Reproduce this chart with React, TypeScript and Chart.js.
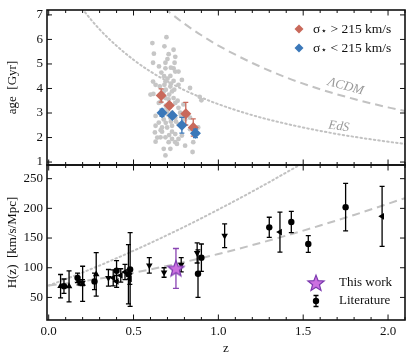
import React, { useEffect, useRef } from "react";
import { Chart, registerables } from "chart.js";

Chart.register(...registerables);

const FONT = "'Liberation Serif', 'DejaVu Serif', serif";

// ---------- Top panel: ages ----------
const galZ = [0.611,0.694,0.682,0.736,0.620,0.707,0.746,0.615,0.688,0.742,0.688,0.736,0.746,0.765,0.664,0.717,0.785,0.615,0.688,0.736,0.630,0.655,0.682,0.717,0.765,0.617,0.678,0.727,0.688,0.736,0.833,0.890,0.900,0.746,0.794,0.765,0.698,0.727,0.775,0.668,0.630,0.649,0.678,0.746,0.804,0.833,0.630,0.668,0.698,0.727,0.765,0.833,0.881,0.626,0.668,0.727,0.746,0.659,0.688,0.727,0.765,0.785,0.630,0.707,0.746,0.804,0.852,0.678,0.717,0.688,0.848,0.756,0.707,0.649,0.717,0.700,0.690,0.700,0.720,0.690,0.710,0.740,0.660,0.700,0.720,0.690,0.750,0.660,0.710,0.640,0.760,0.680,0.720,0.700,0.650,0.780,0.600];
const galAge = [5.85,6.09,5.72,5.58,5.42,5.40,5.29,5.05,5.05,5.05,4.82,4.82,4.69,4.69,4.65,4.51,4.35,4.28,4.28,4.31,4.15,4.08,4.15,4.08,4.15,3.78,3.88,3.88,3.61,3.61,4.02,3.66,3.52,3.41,3.35,3.21,3.21,3.01,3.01,3.01,2.88,2.61,2.74,2.81,2.74,2.81,2.48,2.41,2.41,2.48,2.54,2.34,2.41,2.21,2.24,2.24,2.14,2.01,2.01,1.94,1.94,2.08,1.83,1.81,1.81,1.67,1.81,1.54,1.54,1.27,1.41,1.74,3.55,3.41,2.81,2.95,3.30,4.40,4.20,3.95,3.75,3.95,3.45,3.10,2.65,2.60,2.65,2.30,2.10,2.00,3.50,4.50,4.85,5.20,4.90,2.90,3.75];

const hiZ = [0.663, 0.711, 0.808, 0.852];
const hiAge = [3.71, 3.31, 2.97, 2.41];
const hiErr = [0.27, 0.10, 0.46, 0.35];
const loZ = [0.668, 0.729, 0.785, 0.865];
const loAge = [3.01, 2.90, 2.50, 2.17];
const loErr = [0.15, 0.08, 0.32, 0.17];

const lcdmAgeZ = [0.68, 0.7, 0.8, 0.9, 1.0, 1.2, 1.4, 1.6, 1.8, 2.0, 2.1];
const lcdmAge = [7.28, 7.17, 6.64, 6.17, 5.75, 5.04, 4.45, 3.97, 3.57, 3.23, 3.08];
const edsAgeZ = [0.15, 0.2, 0.3, 0.4, 0.5, 0.6, 0.7, 0.8, 0.9, 1.0, 1.2, 1.4, 1.6, 1.8, 2.0, 2.1];
const edsAge = [7.70, 7.23, 6.41, 5.74, 5.17, 4.69, 4.29, 3.93, 3.63, 3.36, 2.91, 2.56, 2.27, 2.03, 1.83, 1.74];

// ---------- Bottom panel: H(z) ----------
const circZ = [0.09, 0.17, 0.27, 0.4, 0.47, 0.48, 0.88, 0.9, 1.3, 1.43, 1.53, 1.75];
const circH = [69, 83, 77, 95, 89, 97, 90, 117, 168, 177, 140, 202];
const circE = [12, 8, 14, 17, 50, 62, 40, 23, 17, 18, 14, 40];
const upZ = [0.07, 0.12, 0.2, 0.28];
const upH = [69, 68.6, 72.9, 88.8];
const upE = [19.6, 26.2, 29.6, 36.6];
const downZ = [0.179, 0.199, 0.352, 0.593, 0.68, 0.781, 0.875, 1.037];
const downH = [75, 75, 83, 104, 92, 105, 125, 154];
const downE = [4, 5, 14, 13, 8, 12, 17, 20];
const leftZ = [0.3802, 0.4004, 0.4247, 0.4497, 0.4783, 1.363, 1.965];
const leftH = [83, 77, 87.1, 92.8, 80.9, 160, 186.5];
const leftE = [13.5, 10.2, 11.2, 12.9, 9, 33.6, 50.4];
const thisZ = [0.75];
const thisH = [98.8];
const thisE = [33.6];

const lcdmHZ = [0, 0.2, 0.4, 0.6, 0.8, 1.0, 1.2, 1.4, 1.6, 1.8, 2.0, 2.1];
const lcdmH = [70, 77.3, 86.4, 97.2, 109.6, 123.2, 138.1, 154.1, 171.1, 188.9, 207.7, 217.3];
const edsHZ = [0, 0.2, 0.4, 0.6, 0.8, 1.0, 1.2, 1.4, 1.47];
const edsH = [70, 92.0, 116.0, 141.7, 169.0, 198.0, 228.4, 260.3, 271.7];

const xTicks = [0, 0.5, 1.0, 1.5, 2.0];
const ageTicks = [1, 2, 3, 4, 5, 6, 7];
const hTicks = [50, 100, 150, 200, 250];

const RED = "#c9695b";
const BLUE = "#3b78b9";
const GRAY_PT = "#c6c6c6";
const CURVE = "#c2c2c2";
const PURPLE = "#8a45b3";

const pts = (xs: number[], ys: number[]) => xs.map((x, i) => ({ x, y: ys[i] }));

function makeStar(): HTMLCanvasElement {
  const c = document.createElement("canvas");
  c.width = 20;
  c.height = 20;
  const ctx = c.getContext("2d")!;
  const R = 8.5, r = 3.6, cx = 10, cy = 10.6;
  ctx.beginPath();
  for (let i = 0; i < 10; i++) {
    const a = -Math.PI / 2 + (i * Math.PI) / 5;
    const rad = i % 2 === 0 ? R : r;
    ctx.lineTo(cx + rad * Math.cos(a), cy + rad * Math.sin(a));
  }
  ctx.closePath();
  ctx.fillStyle = "#cc70e0";
  ctx.fill();
  ctx.strokeStyle = "#7b3aae";
  ctx.lineWidth = 1.2;
  ctx.stroke();
  return c;
}

const errorBarPlugin = {
  id: "errorBars",
  beforeDatasetDraw(chart: any, args: any) {
    const ds = chart.data.datasets[args.index];
    if (!ds.errors) return;
    const meta = args.meta;
    const ys = chart.scales[ds.yAxisID];
    const ctx = chart.ctx;
    ctx.save();
    ctx.strokeStyle = ds.errorColor || "#000";
    ctx.lineWidth = 1.3;
    const cap = ds.capHalf || 2.5;
    meta.data.forEach((el: any, j: number) => {
      const v = ds.data[j].y;
      const e = ds.errors[j];
      const x = el.x;
      const y1 = ys.getPixelForValue(v + e);
      const y2 = ys.getPixelForValue(v - e);
      ctx.beginPath();
      ctx.moveTo(x, y1);
      ctx.lineTo(x, y2);
      ctx.moveTo(x - cap, y1);
      ctx.lineTo(x + cap, y1);
      ctx.moveTo(x - cap, y2);
      ctx.lineTo(x + cap, y2);
      ctx.stroke();
    });
    ctx.restore();
  },
};

function diamond(ctx: CanvasRenderingContext2D, x: number, y: number, r: number, color: string) {
  ctx.beginPath();
  ctx.moveTo(x, y - r);
  ctx.lineTo(x + r, y);
  ctx.lineTo(x, y + r);
  ctx.lineTo(x - r, y);
  ctx.closePath();
  ctx.fillStyle = color;
  ctx.fill();
}

const framePlugin = {
  id: "frameTicks",
  afterDatasetsDraw(chart: any) {
    const { ctx, chartArea, scales } = chart;
    const x = scales.x;
    const L = chartArea.left, R = chartArea.right;
    ctx.save();
    ctx.strokeStyle = "#111";
    for (const id of ["yTop", "yBot"]) {
      const y = scales[id];
      const T = y.top, B = y.bottom;
      ctx.lineWidth = 1;
      ctx.beginPath();
      for (let k = 0; k <= 21; k++) {
        const px = x.getPixelForValue(k / 10);
        if (px < L || px > R) continue;
        const len = k % 5 === 0 ? 5.5 : 3;
        ctx.moveTo(px, T);
        ctx.lineTo(px, T + len);
        ctx.moveTo(px, B);
        ctx.lineTo(px, B - len);
      }
      for (const t of y.ticks) {
        const py = y.getPixelForValue(t.value);
        ctx.moveTo(L, py);
        ctx.lineTo(L + 5, py);
        ctx.moveTo(R, py);
        ctx.lineTo(R - 5, py);
      }
      ctx.stroke();
      ctx.lineWidth = 1.6;
      ctx.strokeRect(L, T, R - L, B - T);
    }
    ctx.restore();
  },
};

const annotPlugin = {
  id: "annot",
  afterDraw(chart: any) {
    const { ctx, chartArea, scales } = chart;
    const x = scales.x, yT = scales.yTop, yB = scales.yBot;
    ctx.save();
    // curve labels
    ctx.fillStyle = "#9a9a9a";
    ctx.textAlign = "center";
    ctx.textBaseline = "middle";
    ctx.font = `italic 13px ${FONT}`;
    ctx.save();
    ctx.translate(x.getPixelForValue(1.75), yT.getPixelForValue(4.08));
    ctx.rotate(0.26);
    ctx.fillText("ΛCDM", 0, 0);
    ctx.restore();
    ctx.save();
    ctx.translate(x.getPixelForValue(1.71), yT.getPixelForValue(2.45));
    ctx.rotate(0.13);
    ctx.fillText("EdS", 0, 0);
    ctx.restore();

    // top legend
    ctx.textAlign = "left";
    const lx = chartArea.right - 106;
    const entries: [string, string, number][] = [
      [RED, " > 215 km/s", yT.top + 19],
      [BLUE, " < 215 km/s", yT.top + 38],
    ];
    for (const [col, txt, ly] of entries) {
      diamond(ctx, lx, ly, 4.5, col);
      let tx = lx + 14;
      ctx.fillStyle = "#111";
      ctx.font = `13.5px ${FONT}`;
      ctx.fillText("σ", tx, ly);
      tx += ctx.measureText("σ").width + 0.5;
      ctx.font = `10px 'DejaVu Sans', sans-serif`;
      ctx.fillText("⋆", tx, ly + 2.5);
      tx += ctx.measureText("⋆").width;
      ctx.font = `13.5px ${FONT}`;
      ctx.fillText(txt, tx, ly);
    }

    // bottom legend
    const bx = chartArea.right - 89;
    const by1 = yB.bottom - 37;
    const by2 = yB.bottom - 19;
    const star = (chart as any)._starImg;
    if (star) ctx.drawImage(star, bx - star.width / 2, by1 - star.height / 2);
    ctx.strokeStyle = "#000";
    ctx.lineWidth = 1.3;
    ctx.beginPath();
    ctx.moveTo(bx, by2 - 5.5);
    ctx.lineTo(bx, by2 + 5.5);
    ctx.moveTo(bx - 2.5, by2 - 5.5);
    ctx.lineTo(bx + 2.5, by2 - 5.5);
    ctx.moveTo(bx - 2.5, by2 + 5.5);
    ctx.lineTo(bx + 2.5, by2 + 5.5);
    ctx.stroke();
    ctx.beginPath();
    ctx.arc(bx, by2, 3.2, 0, Math.PI * 2);
    ctx.fillStyle = "#000";
    ctx.fill();
    ctx.font = `13px ${FONT}`;
    ctx.fillStyle = "#111";
    ctx.fillText("This work", bx + 23, by1);
    ctx.fillText("Literature", bx + 23, by2);
    ctx.restore();
  },
};

export default function App() {
  const ref = useRef<HTMLCanvasElement>(null);

  useEffect(() => {
    if (!ref.current) return;
    const starImg = makeStar();

    const blackPts = (xs: number[], ys: number[], es: number[], style: any, rot: number, r: number) => ({
      data: pts(xs, ys),
      yAxisID: "yBot",
      errors: es,
      errorColor: "#000",
      pointStyle: style,
      rotation: rot,
      pointRadius: r,
      backgroundColor: "#000",
      borderColor: "#000",
      borderWidth: 0,
      showLine: false,
    });

    const yFit = (s: any) => {
      s.width = 47;
      s.paddingTop = 0;
      s.paddingBottom = 0;
    };

    const chart = new Chart(ref.current, {
      type: "scatter",
      data: {
        datasets: [
          {
            data: pts(thisZ, thisH),
            yAxisID: "yBot",
            errors: thisE,
            errorColor: PURPLE,
            capHalf: 3,
            pointStyle: starImg,
            pointRadius: 9,
            showLine: false,
          } as any,
          blackPts(circZ, circH, circE, "circle", 0, 3.2),
          blackPts(upZ, upH, upE, "triangle", 0, 3.8),
          blackPts(downZ, downH, downE, "triangle", 180, 3.8),
          blackPts(leftZ, leftH, leftE, "triangle", 270, 3.8),
          {
            data: pts(loZ, loAge),
            yAxisID: "yTop",
            errors: loErr,
            errorColor: BLUE,
            capHalf: 2.5,
            pointStyle: "rectRot",
            pointRadius: 5.5,
            backgroundColor: BLUE,
            borderWidth: 0,
            showLine: false,
          } as any,
          {
            data: pts(hiZ, hiAge),
            yAxisID: "yTop",
            errors: hiErr,
            errorColor: RED,
            capHalf: 2.5,
            pointStyle: "rectRot",
            pointRadius: 5.5,
            backgroundColor: RED,
            borderWidth: 0,
            showLine: false,
          } as any,
          {
            data: pts(galZ, galAge),
            yAxisID: "yTop",
            pointStyle: "circle",
            pointRadius: 2.4,
            backgroundColor: GRAY_PT,
            borderWidth: 0,
            showLine: false,
          },
          {
            data: pts(lcdmAgeZ, lcdmAge),
            yAxisID: "yTop",
            showLine: true,
            pointRadius: 0,
            borderColor: CURVE,
            borderWidth: 2,
            borderDash: [8, 5],
            cubicInterpolationMode: "monotone",
          },
          {
            data: pts(edsAgeZ, edsAge),
            yAxisID: "yTop",
            showLine: true,
            pointRadius: 0,
            borderColor: CURVE,
            borderWidth: 2,
            borderDash: [1.5, 3],
            borderCapStyle: "round",
            cubicInterpolationMode: "monotone",
          },
          {
            data: pts(lcdmHZ, lcdmH),
            yAxisID: "yBot",
            showLine: true,
            pointRadius: 0,
            borderColor: CURVE,
            borderWidth: 2,
            borderDash: [8, 5],
            cubicInterpolationMode: "monotone",
          },
          {
            data: pts(edsHZ, edsH),
            yAxisID: "yBot",
            showLine: true,
            pointRadius: 0,
            borderColor: CURVE,
            borderWidth: 2,
            borderDash: [1.5, 3],
            borderCapStyle: "round",
            cubicInterpolationMode: "monotone",
          },
        ] as any,
      },
      options: {
        animation: false,
        responsive: false,
        devicePixelRatio: 1,
        events: [],
        layout: { padding: { left: 0, top: 5, right: 4, bottom: 0 } },
        plugins: { legend: { display: false }, tooltip: { enabled: false } },
        scales: {
          x: {
            type: "linear",
            min: -0.01,
            max: 2.1,
            grid: { display: false, drawTicks: false },
            border: { display: false },
            afterBuildTicks: (s: any) => {
              s.ticks = xTicks.map((v) => ({ value: v }));
            },
            afterFit: (s: any) => {
              s.height = 36;
              s.paddingLeft = 0;
              s.paddingRight = 0;
            },
            ticks: {
              autoSkip: false,
              maxRotation: 0,
              padding: 4,
              color: "#111",
              font: { family: FONT, size: 13 },
              callback: (v: any) => Number(v).toFixed(1),
            },
            title: {
              display: true,
              text: "z",
              color: "#111",
              font: { family: FONT, size: 13 },
              padding: { top: 0, bottom: 0 },
            },
          },
          yBot: {
            type: "linear",
            position: "left",
            stack: "panels",
            stackWeight: 1,
            min: 12,
            max: 273,
            grid: { display: false, drawTicks: false },
            border: { display: false },
            afterBuildTicks: (s: any) => {
              s.ticks = hTicks.map((v) => ({ value: v }));
            },
            afterFit: yFit,
            ticks: { autoSkip: false, padding: 4, color: "#111", font: { family: FONT, size: 13 } },
            title: {
              display: true,
              text: "H(z)  [km/s/Mpc]",
              color: "#111",
              font: { family: FONT, size: 13 },
              padding: { top: 5, bottom: 0 },
            },
          },
          yTop: {
            type: "linear",
            position: "left",
            stack: "panels",
            stackWeight: 1,
            min: 0.88,
            max: 7.2,
            grid: { display: false, drawTicks: false },
            border: { display: false },
            afterBuildTicks: (s: any) => {
              s.ticks = ageTicks.map((v) => ({ value: v }));
            },
            afterFit: yFit,
            ticks: { autoSkip: false, padding: 4, color: "#111", font: { family: FONT, size: 13 } },
            title: {
              display: true,
              text: "age  [Gyr]",
              color: "#111",
              font: { family: FONT, size: 13 },
              padding: { top: 5, bottom: 0 },
            },
          },
        } as any,
      },
      plugins: [errorBarPlugin, framePlugin, annotPlugin] as any,
    });
    (chart as any)._starImg = starImg;
    chart.draw();

    return () => chart.destroy();
  }, []);

  return (
    <div style={{ position: "fixed", left: 0, top: 0, width: 415, height: 356, background: "#fff" }}>
      <canvas ref={ref} width={415} height={356} style={{ width: 415, height: 356, display: "block" }} />
    </div>
  );
}
